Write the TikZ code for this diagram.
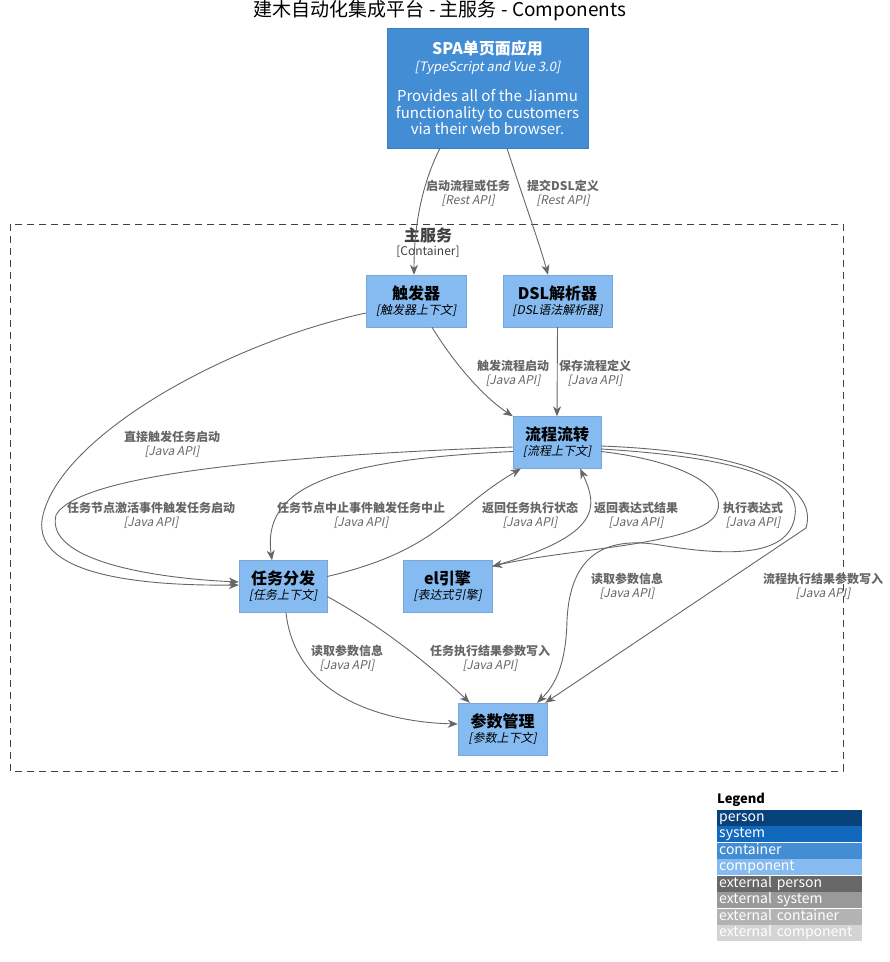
\documentclass[tikz,border=0pt]{standalone}
\usepackage{fontspec}
\setmainfont{Noto Sans CJK SC}[AutoFakeSlant=0.2]
\usetikzlibrary{arrows.meta}

\definecolor{contfill}{HTML}{438DD5}
\definecolor{contline}{HTML}{3C7FC0}
\definecolor{compfill}{HTML}{85BBF0}
\definecolor{compline}{HTML}{78A8D8}
\definecolor{relgray}{HTML}{666666}
\definecolor{legperson}{HTML}{08427B}
\definecolor{legsystem}{HTML}{1168BD}
\definecolor{legcont}{HTML}{438DD5}
\definecolor{legcomp}{HTML}{85BBF0}
\definecolor{legextperson}{HTML}{686868}
\definecolor{legextsystem}{HTML}{999999}
\definecolor{legextcont}{HTML}{B3B3B3}
\definecolor{legextcomp}{HTML}{D4D4D4}

\newcommand{\comptext}[2]{{\fontsize{16}{18}\selectfont\bfseries #1}\\{\itshape [#2]}}
\newcommand{\reltext}[2]{\textbf{#1}\\{\itshape [#2]}}

\tikzset{
  comp/.style={draw=compline, fill=compfill, minimum height=52pt, inner sep=2pt,
    align=center, font=\fontsize{12}{15}\selectfont},
  rel/.style={draw=relgray, line width=0.9pt,
    -{Stealth[length=10pt,width=8pt,inset=3pt]}},
  lbl/.style={text=relgray, align=center, inner sep=0pt, font=\fontsize{12}{14}\selectfont},
  legrow/.style={anchor=north west, minimum width=145pt, minimum height=16pt,
    inner sep=0pt, text height=9.5pt, text depth=2.5pt, text=white,
    font=\fontsize{14}{14}\selectfont, text width=141pt, align=left}
}

\begin{document}
\begin{tikzpicture}[x=1pt,y=-1pt]
  \useasboundingbox (0,0) rectangle (890,962);

  % title
  \node (title) at (440,11) {\fontsize{19}{21}\selectfont 建木自动化集成平台 - 主服务 - Components};

  % boundary of the container
  \draw[draw=black!75, line width=0.9pt, dash pattern=on 7pt off 5pt] (10,224) rectangle (843,771);
  \node[font=\fontsize{16}{18}\selectfont\bfseries, text=black!75] (svc) at (428,235) {主服务};
  \node[font=\fontsize{12}{14}\selectfont, text=black!75] (svctag) at (428,252) {[Container]};

  % the single page app
  \node[draw=contline, fill=contfill, text=white, minimum width=201pt, minimum height=120pt,
    align=center, font=\fontsize{15}{16.5}\selectfont] (spa) at (487.5,88)
    {{\fontsize{16}{17}\selectfont\bfseries SPA单页面应用}\\[0pt]{\itshape\fontsize{13}{15}\selectfont [TypeScript and Vue 3.0]}\\[14pt]
     Provides all of the Jianmu\\functionality to customers\\via their web browser.};

  % components
  \node[comp, minimum width=100pt] (trig) at (416,301) {\comptext{触发器}{触发器上下文}};
  \node[comp, minimum width=109pt] (dsl) at (557.5,301) {\comptext{DSL解析器}{DSL语法解析器}};
  \node[comp, minimum width=88pt] (flow) at (557,442.5) {\comptext{流程流转}{流程上下文}};
  \node[comp, minimum width=88pt] (task) at (283,586.5) {\comptext{任务分发}{任务上下文}};
  \node[comp, minimum width=89pt] (el) at (447.5,586.5) {\comptext{el引擎}{表达式引擎}};
  \node[comp, minimum width=89pt] (param) at (502.5,729) {\comptext{参数管理}{参数上下文}};

  % from the app
  \draw[rel] ([xshift=-47.5pt]spa.south) .. controls (424,180) and (414,220) .. ([xshift=-2pt]trig.north);
  \draw[rel] ([xshift=19.5pt]spa.south) .. controls (522,195) and (540,245) .. ([xshift=-9.5pt]dsl.north);
  \node[lbl] (l1) at (468,193) {\reltext{启动流程或任务}{Rest API}};
  \node[lbl] (l2) at (563,193) {\reltext{提交DSL定义}{Rest API}};

  % into the flow
  \draw[rel] ([xshift=16pt]trig.south) .. controls (455,365) and (485,398) .. (flow.north west);
  \draw[rel] (dsl.south) -- (flow.north);
  \node[lbl] (l3) at (513,373) {\reltext{触发流程启动}{Java API}};
  \node[lbl] (l4) at (595,373) {\reltext{保存流程定义}{Java API}};

  % towards the task dispatcher
  \draw[rel] ([yshift=-12pt]trig.west) .. controls (220,345) and (55,440) .. (42,520)
    .. controls (35,575) and (140,586) .. ([yshift=1.5pt]task.west);
  \draw[rel] ([yshift=-4.5pt]flow.west) .. controls (300,455) and (80,472) .. (56,515)
    .. controls (45,560) and (150,578) .. ([yshift=4.5pt]task.west);
  \draw[rel] ([yshift=-9pt]flow.west) .. controls (330,460) and (262,488) .. ([xshift=-11pt]task.north);
  \draw[rel] ([yshift=10pt]task.east) .. controls (440,550) and (450,510) .. ([xshift=8pt]flow.south west);
  \node[lbl] (l5) at (172,444) {\reltext{直接触发任务启动}{Java API}};
  \node[lbl] (l6) at (151,515) {\reltext{任务节点激活事件触发任务启动}{Java API}};
  \node[lbl] (l7) at (361,515) {\reltext{任务节点中止事件触发任务中止}{Java API}};
  \node[lbl] (l8) at (530,515) {\reltext{返回任务执行状态}{Java API}};

  % expression engine
  \draw[rel] ([yshift=-6pt]el.north east) .. controls (605,535) and (597,505) .. ([xshift=-21pt]flow.south east);
  \draw[rel] ([yshift=-9pt]flow.east) .. controls (690,462) and (727,490) .. (717,512)
    .. controls (705,545) and (570,548) .. ([yshift=-6pt]el.north east);
  \node[lbl] (l9) at (636,515) {\reltext{返回表达式结果}{Java API}};
  \node[lbl] (l10) at (753,515) {\reltext{执行表达式}{Java API}};

  % parameters
  \draw[rel] ([yshift=-6.5pt]flow.east) .. controls (750,458) and (800,482) .. (795,515)
    .. controls (790,560) and (720,555) .. (660,545)
    .. controls (600,535) and (570,560) .. (567,620)
    .. controls (566,670) and (552,688) .. ([xshift=-10pt]param.north east);
  \draw[rel] ([yshift=-3.5pt]flow.east) .. controls (760,452) and (818,488) .. (806,528)
    -- ([xshift=-2pt]param.north east);
  \draw[rel] ([xshift=3pt]task.south) .. controls (295,695) and (380,722) .. ([yshift=5pt]param.west);
  \draw[rel] ([yshift=-10pt]task.east) .. controls (380,625) and (430,665) .. ([xshift=12pt]param.north west);
  \node[lbl] (l11) at (627,586) {\reltext{读取参数信息}{Java API}};
  \node[lbl] (l12) at (823,586) {\reltext{流程执行结果参数写入}{Java API}};
  \node[lbl] (l13) at (347,658) {\reltext{读取参数信息}{Java API}};
  \node[lbl] (l14) at (490,658) {\reltext{任务执行结果参数写入}{Java API}};

  % legend
  \node[anchor=south west, inner sep=0pt, font=\fontsize{13}{14}\selectfont\bfseries] (leg) at (717,807) {Legend};
  \foreach \name/\col [count=\i] in {person/legperson, system/legsystem, container/legcont,
      component/legcomp, external person/legextperson, external system/legextsystem,
      external container/legextcont, external component/legextcomp}
    \node[legrow, fill=\col] (leg\i) at (717,{809.5+16.5*(\i-1)}) {\name};
\end{tikzpicture}
\end{document}
